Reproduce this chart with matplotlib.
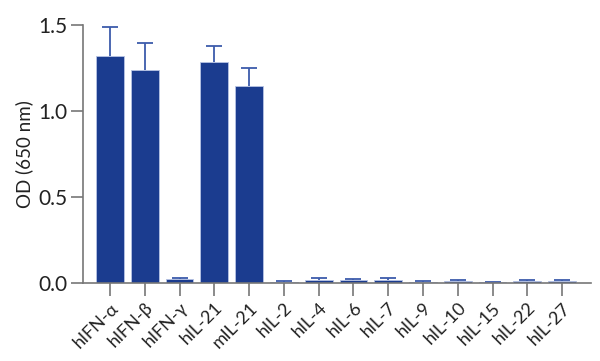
import numpy as np
import matplotlib
matplotlib.use('Agg')
import matplotlib.pyplot as plt

plt.rcParams['font.family'] = ['Lato', 'DejaVu Sans']

labels = ['hIFN-α', 'hIFN-β', 'hIFN-γ', 'hIL-21', 'mIL-21', 'hIL-2', 'hIL-4',
          'hIL-6', 'hIL-7', 'hIL-9', 'hIL-10', 'hIL-15', 'hIL-22', 'hIL-27']
od = [1.32, 1.24, 0.022, 1.285, 1.145, 0.007, 0.02, 0.016, 0.016, 0.006,
      0.01, 0.004, 0.009, 0.011]
err = [0.17, 0.155, 0.01, 0.095, 0.105, 0.005, 0.01, 0.006, 0.012, 0.003,
       0.005, 0.001, 0.006, 0.008]

bar_col = '#1b3c8f'
grey = '#777777'
txt = '#222222'

fig = plt.figure(figsize=(6.0, 3.61), dpi=100)
ax = fig.add_axes([0.138, 0.216, 0.847, 0.715])

x = np.arange(len(labels))
ax.bar(x, od, width=0.8, color=bar_col, edgecolor='#b8c4e4', linewidth=0.6, zorder=2)
eb = ax.errorbar(x, od, yerr=[np.zeros(len(err)), err], fmt='none', ecolor='#3d5cab',
                 elinewidth=1.3, capsize=6, capthick=1.3, zorder=3)
# only keep the upper caps
eb[1][0].set_visible(False)

ax.set_xlim(-0.78, 13.83)
ax.set_ylim(0, 1.5)
ax.set_yticks([0.0, 0.5, 1.0, 1.5])
ax.set_yticklabels(['0.0', '0.5', '1.0', '1.5'])
ax.set_xticks(x)
ax.set_xticklabels(labels, rotation=45, ha='right', rotation_mode='anchor')

for s in ['top', 'right']:
    ax.spines[s].set_visible(False)
for s in ['left', 'bottom']:
    ax.spines[s].set_color(grey)
    ax.spines[s].set_linewidth(1.2)
ax.spines['bottom'].set_zorder(4)

ax.tick_params(axis='both', color=grey, length=9, width=1.2, labelcolor=txt)
ax.tick_params(axis='y', labelsize=15, pad=2)
ax.tick_params(axis='x', labelsize=13, pad=3)

ax.set_ylabel('OD (650 nm)', fontsize=13.5, color=txt, labelpad=4)

fig.savefig('out.png', dpi=100)
